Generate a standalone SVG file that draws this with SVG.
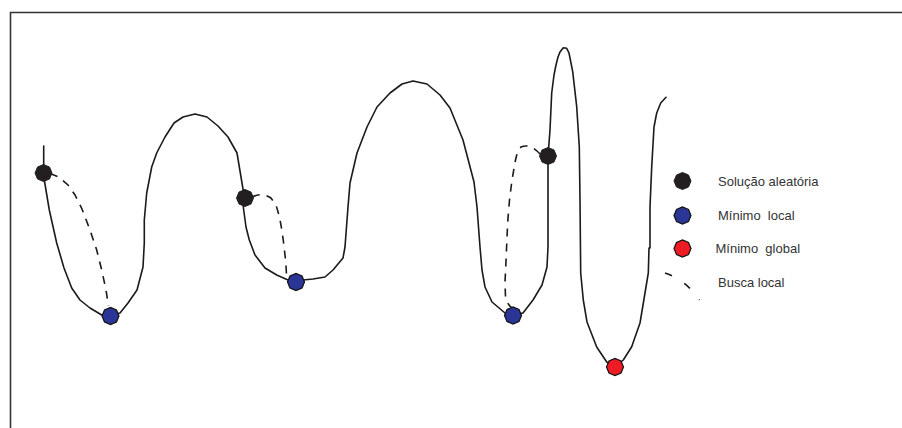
<svg xmlns="http://www.w3.org/2000/svg" width="902" height="428" viewBox="0 0 902 428">
<defs>
<style>
.frame{fill:none;stroke:#333;stroke-width:1.6}
.curve{fill:none;stroke:#1a1a1a;stroke-width:1.6;stroke-linejoin:round;stroke-linecap:round}
.dash{fill:none;stroke:#1a1a1a;stroke-width:1.6;stroke-dasharray:8 7}
.lbl{font-family:"Liberation Sans",Arial,sans-serif;font-size:13px;fill:#333;white-space:pre}
.sol{fill:#231f20;stroke:#231f20;stroke-width:1}
.loc{fill:#2b3595;stroke:#111;stroke-width:1.2}
.glo{fill:#ed1c24;stroke:#111;stroke-width:1.2}
</style>
<polygon id="hex" points="8.5,0 6,6 0,8.5 -6,6 -8.5,0 -6,-6 0,-8.5 6,-6"/>
</defs>
<path class="frame" d="M10.5,428 V12.5 H902"/>
<g id="connectors">
<path id="landscape" class="curve" d="M43.7,146 L43.7,173 L44.3,180 L49.3,210 L56.7,243 L64,268 L71.7,288 L80,300 L90,308 L101.7,315 L110,316 L120,313 L128,303 L137,290 L143,267 L144.3,243 L144.3,220 L146.7,193 L151.7,167 L156.7,153 L165,137 L174,123 L183,117 L195,114 L207,117 L218,126 L228,137 L237,153 L243.5,192 L243.3,207 L246,227 L249.3,240 L255,255 L265,268 L276.7,275 L288,280 L296,282 L303,280 L313,279 L325,277 L333,270 L343,258 L345,247 L348,207 L350,183 L357,153 L367,127 L377,107 L390,93 L402,84 L413,81 L427,84 L440,95 L450,108 L463,140 L474,182 L477,207 L480,247 L482,270 L485,287 L492,302 L505,313 L513,315 L523,313 L533,300 L542,285 L547,267 L548,247 L548,167 L548,156 L550,130 L551.7,93 L554,75 L556,65 L558,57 L560,52 L563.3,47.7 L566.7,48.3 L569,53 L572.7,71.7 L576.7,106.7 L579.3,146.7 L580,200 L580.7,273 L583.3,300 L587,322 L596.7,347 L606.7,362 L615,367 L623.3,360 L631.7,346.7 L640,323 L645,293 L648.3,273 L649,248 L650,248 L650,207 L651.7,167 L654,127 L656.7,113 L660.7,103 L666,97.3"/>
<path id="busca1" class="dash" d="M50,173.5 L59,177 L68,185 L75,195 L82,209 L90,230 L96.7,250 L101.7,270 L106,290 L108.5,306"/>
<path id="busca2" class="dash" d="M252,197 Q262,192 271,198 L276,205 L279.5,217 L282,231 L283.5,242 L285,255 L286,265 L286.7,280"/>
<path id="busca3" class="dash" d="M540,154 Q530,143 521,147 Q517,152 515.5,160 L512,180 L509.5,200 L507.7,222 L506.7,245 L505.7,268 L505,282 L505.5,297 Q507,304 512,308"/>
</g>
<g id="solucao1"><use href="#hex" class="sol" x="43.5" y="173"/></g>
<g id="minimo1"><use href="#hex" class="loc" x="110.5" y="316"/></g>
<g id="solucao2"><use href="#hex" class="sol" x="245" y="198"/></g>
<g id="minimo2"><use href="#hex" class="loc" x="296" y="282"/></g>
<g id="solucao3"><use href="#hex" class="sol" x="548" y="156"/></g>
<g id="minimo3"><use href="#hex" class="loc" x="513" y="315.5"/></g>
<g id="global"><use href="#hex" class="glo" x="615" y="367"/></g>
<g id="legend">
<use href="#hex" class="sol" x="682.5" y="181"/>
<text class="lbl" x="718" y="185.5">Solução aleatória</text>
<use href="#hex" class="loc" x="682.5" y="215.5"/>
<text class="lbl" x="718" y="220" xml:space="preserve">Mínimo  local</text>
<use href="#hex" class="glo" x="682.5" y="248.5"/>
<text class="lbl" x="715.5" y="253" xml:space="preserve">Mínimo  global</text>
<path class="dash" d="M665,273 Q686,280 699.5,300" style="stroke-dasharray:7.5 14.5"/>
<text class="lbl" x="718" y="287">Busca local</text>
</g>
</svg>
